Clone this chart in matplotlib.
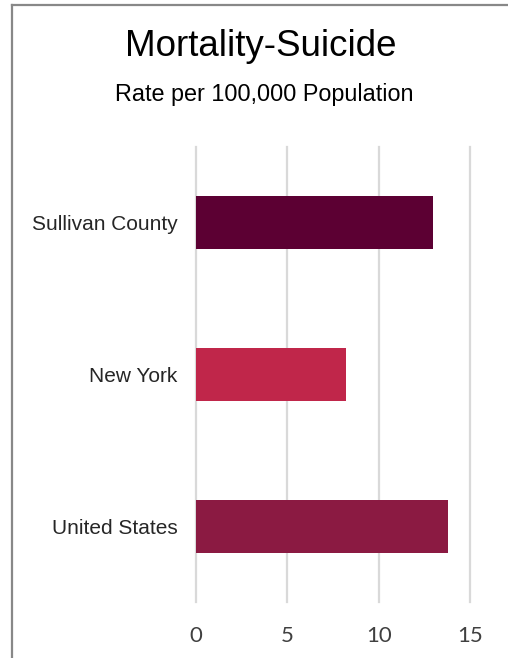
import matplotlib.pyplot as plt
from matplotlib.lines import Line2D

# values
places = ["Sullivan County", "New York", "United States"]
rates = [13.0, 8.2, 13.8]
bar_colors = ["#5c0033", "#c0264a", "#8b1a42"]
x_ticks = [0, 5, 10, 15]

fig = plt.figure(figsize=(5.08, 6.58), dpi=100)
ax = fig.add_axes([196 / 508, 1 - 602 / 658, (470 - 196) / 508, (602 - 147) / 658])

pos = list(range(len(places)))
ax.barh(pos, rates, height=0.35, color=bar_colors, zorder=3)
ax.set_ylim(len(places) - 0.5, -0.5)
ax.set_xlim(0, 15)
ax.set_yticks(pos)
ax.set_yticklabels(places, fontsize=15, family="Liberation Sans", color="#262626")
ax.set_xticks(x_ticks)
ax.set_xticklabels([str(t) for t in x_ticks], fontsize=16, family="Lato", color="#404040")
ax.tick_params(length=0)
ax.tick_params(axis="y", pad=13.5)
ax.tick_params(axis="x", pad=17.5)
ax.grid(axis="x", color="#d9d9d9", linewidth=1.6, zorder=0)
for g in ax.get_xgridlines():
    g.set_clip_on(False)
ax.set_axisbelow(True)
for s in ax.spines.values():
    s.set_visible(False)

fig.text(261 / 508, 1 - 46 / 658, "Mortality-Suicide", ha="center", va="center",
         fontsize=26.5, family="Liberation Sans", color="#000000")
fig.text(264 / 508, 1 - 95 / 658, "Rate per 100,000 Population", ha="center", va="center",
         fontsize=16.8, family="Liberation Sans", color="#000000")

# frame: only left and top edges show in the crop
fig.add_artist(Line2D([11.5 / 508, 11.5 / 508], [0, 1 - 5 / 658], color="#888888", linewidth=1.6))
fig.add_artist(Line2D([11.5 / 508, 1], [1 - 5 / 658, 1 - 5 / 658], color="#888888", linewidth=1.6))

fig.savefig("out.png", dpi=100)
